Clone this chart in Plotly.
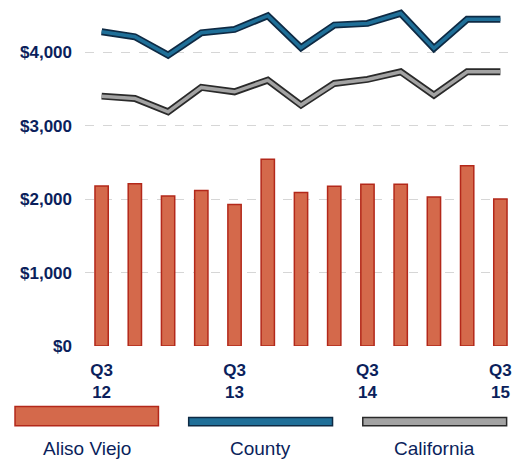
import plotly.graph_objects as go

quarters = ["Q3 12", "Q4 12", "Q1 13", "Q2 13", "Q3 13", "Q4 13", "Q1 14",
            "Q2 14", "Q3 14", "Q4 14", "Q1 15", "Q2 15", "Q3 15"]
aliso_viejo = [2181, 2209, 2045, 2119, 1928, 2545, 2091, 2177, 2204, 2204, 2031, 2454, 2004]
county = [4281, 4213, 3963, 4267, 4313, 4499, 4063, 4372, 4395, 4532, 4055, 4450, 4450]
california = [3404, 3373, 3190, 3523, 3463, 3622, 3282, 3577, 3632, 3736, 3418, 3736, 3736]
tick_quarters = ["Q3 12", "Q3 13", "Q3 14", "Q3 15"]
tick_text = ["Q3<br>12", "Q3<br>13", "Q3<br>14", "Q3<br>15"]
y_ticks = [0, 1000, 2000, 3000, 4000]
y_ticktext = ["$0", "$1,000", "$2,000", "$3,000", "$4,000"]
legend_names = ["Aliso Viejo", "County", "California"]

NAVY = "#0b1f5c"
FONT = "Liberation Sans Narrow, Arial Narrow, Liberation Sans, Arial"

fig = go.Figure()
fig.add_trace(go.Bar(x=quarters, y=aliso_viejo, name=legend_names[0],
                     marker=dict(color="#d4694b", line=dict(color="#b3281a", width=1.5)),
                     width=0.4))
# outline + inner line for County
fig.add_trace(go.Scatter(x=quarters, y=county, mode="lines",
                         line=dict(color="#0e2a44", width=7), hoverinfo="skip"))
fig.add_trace(go.Scatter(x=quarters, y=county, mode="lines", name=legend_names[1],
                         line=dict(color="#1f6f98", width=3.5)))
# outline + inner line for California
fig.add_trace(go.Scatter(x=quarters, y=california, mode="lines",
                         line=dict(color="#2a2a2a", width=7), hoverinfo="skip"))
fig.add_trace(go.Scatter(x=quarters, y=california, mode="lines", name=legend_names[2],
                         line=dict(color="#a3a3a3", width=3.5)))

# manual legend: swatches and labels
shapes = [
    dict(type="rect", xref="paper", yref="paper", x0=-0.162, x1=0.17, y0=-0.231, y1=-0.175,
         fillcolor="#d4694b", line=dict(color="#b3281a", width=1.5)),
    dict(type="rect", xref="paper", yref="paper", x0=0.24, x1=0.573, y0=-0.231, y1=-0.207,
         fillcolor="#1f6f98", line=dict(color="#0e2a44", width=1.5)),
    dict(type="rect", xref="paper", yref="paper", x0=0.643, x1=0.976, y0=-0.231, y1=-0.207,
         fillcolor="#a3a3a3", line=dict(color="#2a2a2a", width=1.5)),
]
annotations = []
for name, xc in zip(legend_names, [0.004, 0.406, 0.81]):
    annotations.append(dict(text=name, xref="paper", yref="paper", x=xc, y=-0.297,
                            xanchor="center", yanchor="middle", showarrow=False,
                            font=dict(family=FONT, size=19, color=NAVY)))

fig.update_layout(
    width=524, height=461,
    margin=dict(l=85, r=7, t=1, b=115),
    paper_bgcolor="white", plot_bgcolor="white",
    showlegend=False, bargap=0.6,
    shapes=shapes, annotations=annotations,
    xaxis=dict(type="category", tickmode="array", tickvals=tick_quarters, ticktext=tick_text,
               showgrid=False, zeroline=False, showline=False, ticks="",
               ticklabelstandoff=12,
               tickfont=dict(family=FONT, size=17, color=NAVY, weight="bold"),
               range=[-0.5, 12.5]),
    yaxis=dict(range=[0, 4700], tickmode="array", tickvals=y_ticks, ticktext=y_ticktext,
               showgrid=True, gridcolor="#d6d6d6", griddash="dash", gridwidth=1,
               zeroline=False, showline=False, ticks="", ticklabelstandoff=12,
               tickfont=dict(family=FONT, size=17, color=NAVY, weight="bold")),
)

fig.write_html("out.html")
